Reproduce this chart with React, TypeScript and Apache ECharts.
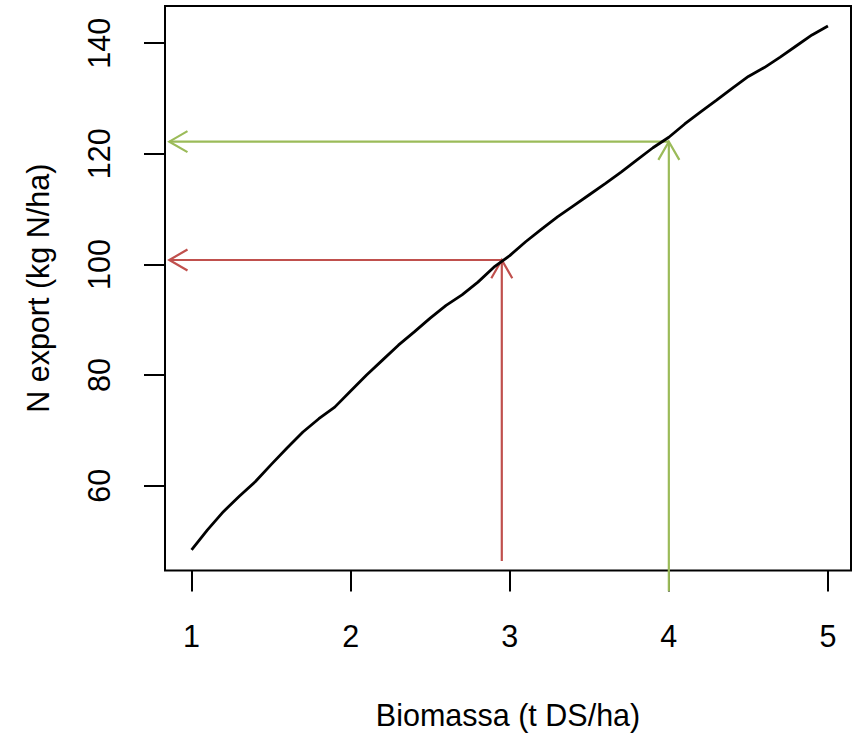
import React, { useEffect, useRef } from "react";
import * as echarts from "echarts";

// Biomass (t DS/ha) and N export (kg N/ha)
const biomass = [
  1.0, 1.1, 1.2, 1.3, 1.4, 1.5, 1.6, 1.7, 1.8, 1.9, 2.0, 2.1, 2.2, 2.3, 2.4, 2.5, 2.6, 2.7, 2.8, 2.9,
  3.0, 3.1, 3.2, 3.3, 3.4, 3.5, 3.6, 3.7, 3.8, 3.9, 4.0, 4.1, 4.2, 4.3, 4.4, 4.5, 4.6, 4.7, 4.8, 4.9, 5.0,
];
const nExport = [
  48.4, 52.0, 55.3, 58.1, 60.7, 63.8, 66.8, 69.7, 72.1, 74.2, 77.1, 80.0, 82.7, 85.4, 87.8, 90.3, 92.6, 94.5, 96.8, 99.5,
  101.6, 104.1, 106.4, 108.6, 110.6, 112.6, 114.6, 116.7, 118.9, 121.1, 123.0, 125.4, 127.6, 129.7, 131.9, 134.0, 135.6, 137.5, 139.5, 141.5, 143.1,
];

// Arrow segments [x1, y1, x2, y2] (arrowhead at the end point)
const redArrows = [
  [2.95, 46.4, 2.95, 100.8],
  [2.95, 100.8, 0.86, 100.8],
];
const greenArrows = [
  [4.0, 40.9, 4.0, 122.2],
  [4.0, 122.2, 0.86, 122.2],
];

const xTicks = [1, 2, 3, 4, 5];
const yTicks = [60, 80, 100, 120, 140];

const FONT = "'Liberation Sans', Arial, sans-serif";

function arrowSeries(data: number[][], color: string) {
  return {
    type: "custom",
    data,
    clip: false,
    encode: { x: [0, 2], y: [1, 3] },
    renderItem: (_params: any, api: any) => {
      const p1 = api.coord([api.value(0), api.value(1)]);
      const p2 = api.coord([api.value(2), api.value(3)]);
      const ang = Math.atan2(p2[1] - p1[1], p2[0] - p1[0]);
      const L = 21;
      const a = Math.PI / 6;
      const h1 = [p2[0] - L * Math.cos(ang - a), p2[1] - L * Math.sin(ang - a)];
      const h2 = [p2[0] - L * Math.cos(ang + a), p2[1] - L * Math.sin(ang + a)];
      return {
        type: "group",
        children: [
          {
            type: "line",
            shape: { x1: p1[0], y1: p1[1], x2: p2[0], y2: p2[1] },
            style: { stroke: color, lineWidth: 2.2, fill: null },
          },
          {
            type: "polyline",
            shape: { points: [h1, p2, h2] },
            style: { stroke: color, lineWidth: 2.2, fill: null },
          },
        ],
      };
    },
  };
}

export default function App() {
  const ref = useRef<HTMLDivElement>(null);
  useEffect(() => {
    if (!ref.current) return;
    const chart = echarts.init(ref.current, undefined, { renderer: "svg" });
    chart.setOption({
      animation: false,
      backgroundColor: "#ffffff",
      grid: {
        left: 165,
        right: 5,
        top: 6,
        bottom: 163,
        show: true,
        borderColor: "#000",
        borderWidth: 2,
        containLabel: false,
      },
      xAxis: {
        type: "value",
        min: 0.833,
        max: 5.145,
        name: "Biomassa (t DS/ha)",
        nameLocation: "middle",
        nameGap: 144,
        nameTextStyle: { fontFamily: FONT, fontSize: 30.5, color: "#000", verticalAlign: "middle" },
        axisLine: { show: false },
        splitLine: { show: false },
        axisTick: {
          show: true,
          length: 21,
          customValues: xTicks,
          lineStyle: { color: "#000", width: 2 },
        },
        axisLabel: {
          customValues: xTicks,
          margin: 65,
          verticalAlign: "middle",
          fontFamily: FONT,
          fontSize: 30.5,
          color: "#000",
        },
      },
      yAxis: {
        type: "value",
        min: 44.66,
        max: 146.73,
        name: "N export (kg N/ha)",
        nameLocation: "middle",
        nameGap: 127,
        nameTextStyle: { fontFamily: FONT, fontSize: 30.5, color: "#000", verticalAlign: "middle" },
        axisLine: { show: false },
        splitLine: { show: false },
        axisTick: {
          show: true,
          length: 21,
          customValues: yTicks,
          lineStyle: { color: "#000", width: 2 },
        },
        axisLabel: {
          customValues: yTicks,
          rotate: 90,
          margin: 66,
          verticalAlign: "middle",
          fontFamily: FONT,
          fontSize: 30.5,
          color: "#000",
        },
      },
      series: [
        {
          type: "line",
          data: biomass.map((x, i) => [x, nExport[i]]),
          showSymbol: false,
          symbol: "none",
          lineStyle: { color: "#000", width: 2.8 },
          z: 3,
        },
        arrowSeries(redArrows, "#C0504D"),
        arrowSeries(greenArrows, "#9BBB59"),
      ],
    });
    return () => chart.dispose();
  }, []);
  return (
    <div
      ref={ref}
      style={{ position: "absolute", left: 0, top: 0, width: 856, height: 735 }}
    />
  );
}
